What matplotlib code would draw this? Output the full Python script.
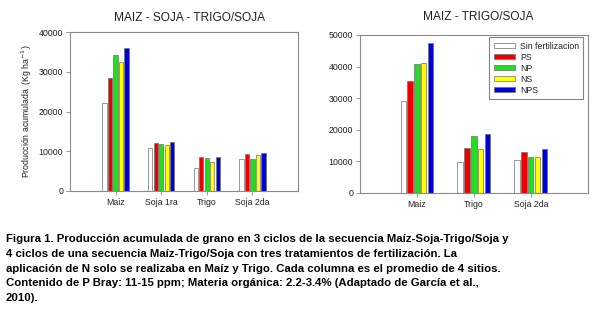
import matplotlib
matplotlib.use("Agg")
import matplotlib.pyplot as plt
import numpy as np

plt.rcParams['font.family'] = ['Liberation Sans', 'DejaVu Sans']

series = ["Sin fertilizacion", "PS", "NP", "NS", "NPS"]
colors = ["#ffffff", "#ee0000", "#22dd22", "#ffff00", "#0000dd"]

cats_left = ["Maiz", "Soja 1ra", "Trigo", "Soja 2da"]
left_sin = [22200, 10800, 5900, 8100]
left_ps = [28600, 12100, 8500, 9200]
left_np = [34300, 11850, 8400, 8100]
left_ns = [32600, 11500, 7300, 9100]
left_nps = [36000, 12400, 8600, 9600]

cats_right = ["Maiz", "Trigo", "Soja 2da"]
right_sin = [29200, 9800, 10300]
right_ps = [35300, 14300, 13100]
right_np = [40700, 17900, 11300]
right_ns = [41200, 13800, 11500]
right_nps = [47500, 18600, 13800]

left_vals = [left_sin, left_ps, left_np, left_ns, left_nps]
right_vals = [right_sin, right_ps, right_np, right_ns, right_nps]

caption_lines = [
    "Figura 1. Producción acumulada de grano en 3 ciclos de la secuencia Maíz-Soja-Trigo/Soja y",
    "4 ciclos de una secuencia Maíz-Trigo/Soja con tres tratamientos de fertilización. La",
    "aplicación de N solo se realizaba en Maíz y Trigo. Cada columna es el promedio de 4 sitios.",
    "Contenido de P Bray: 11-15 ppm; Materia orgánica: 2.2-3.4% (Adaptado de García et al.,",
    "2010).",
]

fig = plt.figure(figsize=(6.1, 3.22), dpi=100)
ax1 = fig.add_axes([70/610, 1-191/322, 228/610, (191-32.3)/322])
ax2 = fig.add_axes([360/610, 1-193/322, 227.7/610, (193-35)/322])

bw = 0.095
step = 0.12
spine_c = "#8a8a8a"
text_c = "#222222"

def draw(ax, cats, vals, ymax, xmax):
    x = np.arange(1, len(cats) + 1)
    for i, (v, c, name) in enumerate(zip(vals, colors, series)):
        ax.bar(x + (i - 2) * step, v, width=bw, color=c, edgecolor="#707070",
               linewidth=0.5, label=name)
    ax.set_xlim(0, xmax)
    ax.set_ylim(0, ymax)
    ax.set_xticks(x)
    ax.set_xticklabels(cats)
    ax.set_yticks(np.arange(0, ymax + 1, 10000))
    for s in ax.spines.values():
        s.set_color(spine_c)
        s.set_linewidth(0.8)
    ax.tick_params(axis='both', direction='out', length=3, width=0.6,
                   color=spine_c, labelsize=6.3, labelcolor=text_c, pad=2)

draw(ax1, cats_left, left_vals, 40000, 5)
draw(ax2, cats_right, right_vals, 50000, 4)

ax1.set_ylabel("Producción acumulada  (Kg ha$^{-1}$)", fontsize=6.3, color=text_c)
ax1.yaxis.set_label_coords(-0.16, 0.5)

fig.text(190/610, 1-18/322, "MAIZ - SOJA - TRIGO/SOJA", ha='center', va='center',
         fontsize=8.6, color=text_c)
fig.text(478/610, 1-17/322, "MAIZ - TRIGO/SOJA", ha='center', va='center',
         fontsize=8.6, color=text_c)

leg = ax2.legend(loc='upper right', fontsize=6.3, frameon=True, fancybox=False,
                 handlelength=2.4, handleheight=0.5, labelspacing=0.23,
                 borderpad=0.5, handletextpad=0.6, borderaxespad=0)
leg.set_bbox_to_anchor((583.3/610, 1-37.3/322), transform=fig.transFigure)
leg.get_frame().set_edgecolor("#666666")
leg.get_frame().set_linewidth(0.8)
for t in leg.get_texts():
    t.set_color(text_c)

base0 = 242.2
dline = 14.75
for k, line in enumerate(caption_lines):
    fig.text(6/610, 1-(base0 + k*dline)/322, line, ha='left', va='baseline',
             fontsize=8.2, fontweight='bold', color='black')

fig.savefig("out.png", dpi=100)
